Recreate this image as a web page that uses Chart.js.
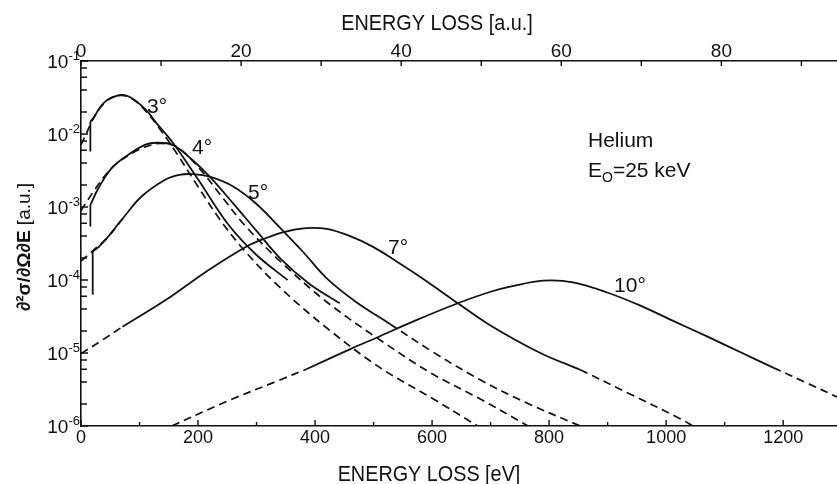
<!DOCTYPE html>
<html>
<head>
<meta charset="utf-8">
<script src="https://cdn.jsdelivr.net/npm/chart.js@4/dist/chart.umd.min.js"></script>
<style>
  html, body { margin: 0; padding: 0; background: #fff; }
</style>
</head>
<body>
<canvas id="chart" width="837" height="484"></canvas>
<script>
// axes
const X_MAX = 1292;          // the figure is cut at the right edge
const EV_PER_AU = 13.68;
const X_TICKS = [0, 200, 400, 600, 800, 1000, 1200];
const X_MINOR = [100, 300, 500, 700, 900, 1100];
const AU_TICKS = [0, 20, 40, 60, 80];
const AU_MINOR = [10, 30, 50, 70, 90];
const Y_TICKS = [1e-6, 1e-5, 1e-4, 1e-3, 1e-2, 1e-1];
const Y_MINOR = [2, 4, 6, 8];

// 3 deg
const E3_START = [16, 16];
const Y3_START = [5.75e-3, 1.48e-2];
const E3_EXP = [16, 23, 32, 45, 69, 85, 111, 129, 157, 200, 250, 300, 353];
const Y3_EXP = [1.48e-2, 1.74e-2, 2.29e-2, 2.92e-2, 3.42e-2, 3.16e-2, 2.14e-2, 1.41e-2, 7.6e-3, 2.4e-3, 6.0e-4, 2.2e-4, 1.0e-4];
const E3_TH = [0, 10, 20, 35, 50, 69, 90, 110, 130, 160, 200, 240, 280, 340, 420, 511, 600, 678];
const Y3_TH = [7.1e-3, 1.05e-2, 1.58e-2, 2.40e-2, 3.09e-2, 3.39e-2, 2.95e-2, 2.09e-2, 1.32e-2, 6.0e-3, 1.9e-3, 6.3e-4, 2.5e-4, 7.9e-5, 2.2e-5, 6.3e-6, 2.4e-6, 1.0e-6];

// 4 deg
const E4_START = [16, 16];
const Y4_START = [5.4e-4, 1.07e-3];
const E4_EXP = [16, 30, 52, 80, 109, 129, 157, 191, 220, 260, 300, 340, 390, 442];
const Y4_EXP = [1.07e-3, 1.82e-3, 3.39e-3, 5.13e-3, 7.08e-3, 7.59e-3, 7.08e-3, 4.37e-3, 2.6e-3, 1.12e-3, 4.7e-4, 2.0e-4, 8.9e-5, 4.8e-5];
const E4_TH = [0, 12, 23, 40, 60, 90, 120, 140, 165, 200, 240, 280, 340, 420, 511, 600, 680, 764];
const Y4_TH = [8.9e-4, 1.26e-3, 1.70e-3, 2.63e-3, 3.89e-3, 5.62e-3, 7.08e-3, 7.41e-3, 6.61e-3, 3.55e-3, 1.41e-3, 5.6e-4, 1.82e-4, 5.0e-5, 1.51e-5, 5.2e-6, 2.4e-6, 1.0e-6];

// 5 deg
const E5_START = [20, 20];
const Y5_START = [6.3e-5, 2.45e-4];
const E5_EXP = [20, 30, 45, 74, 103, 143, 168, 191, 220, 260, 300, 340, 380, 420, 470, 528];
const Y5_EXP = [2.45e-4, 2.82e-4, 3.8e-4, 7.4e-4, 1.38e-3, 2.34e-3, 2.75e-3, 2.82e-3, 2.6e-3, 1.91e-3, 1.10e-3, 5.2e-4, 2.4e-4, 1.05e-4, 5.0e-5, 2.5e-5];
const E5_TH_LOW = [0, 20, 45, 74];
const Y5_TH_LOW = [1.82e-4, 2.5e-4, 3.8e-4, 7.4e-4];
const E5_TH_HIGH = [528, 600, 682, 760, 853];
const Y5_TH_HIGH = [2.5e-5, 1.05e-5, 4.3e-6, 2.1e-6, 1.0e-6];

// 7 deg
const E7_TH_LOW = [0, 35, 71];
const Y7_TH_LOW = [9.8e-6, 1.48e-5, 2.29e-5];
const E7_EXP = [71, 146, 215, 283, 314, 348, 385, 420, 460, 500, 540, 580, 613, 644, 699, 785, 853];
const Y7_EXP = [2.29e-5, 5.4e-5, 1.32e-4, 2.88e-4, 3.7e-4, 4.57e-4, 5.13e-4, 5.0e-4, 3.98e-4, 2.82e-4, 1.78e-4, 1.10e-4, 7.2e-5, 4.8e-5, 2.4e-5, 1.0e-5, 5.9e-6];
const E7_TH_HIGH = [853, 940, 1024, 1046];
const Y7_TH_HIGH = [5.9e-6, 2.7e-6, 1.26e-6, 1.0e-6];

// 10 deg
const E10_TH_LOW = [155, 250, 340, 385];
const Y10_TH_LOW = [1.0e-6, 2.19e-6, 4.27e-6, 6.0e-6];
const E10_EXP = [385, 462, 505, 570, 644, 700, 739, 790, 841, 898, 955, 1010, 1069, 1130, 1183];
const Y10_EXP = [6.0e-6, 1.15e-5, 1.62e-5, 2.75e-5, 4.8e-5, 6.9e-5, 8.3e-5, 9.8e-5, 9.3e-5, 6.8e-5, 4.5e-5, 2.8e-5, 1.7e-5, 1.0e-5, 6.3e-6];
const E10_TH_HIGH = [1183, 1240, 1292];
const Y10_TH_HIGH = [6.3e-6, 3.9e-6, 2.5e-6];

const INK = "#111";
const FONT = '"Liberation Sans", Arial, sans-serif';

function pts(xs, ys) { return xs.map(function(x, i) { return { x: x, y: ys[i] }; }); }

function solid(xs, ys, tension) {
  return { data: pts(xs, ys), borderColor: INK, borderWidth: 1.8, pointRadius: 0, fill: false, tension: tension === undefined ? 0.35 : tension };
}
function dashed(xs, ys) {
  const d = solid(xs, ys);
  d.borderDash = [8, 5];
  d.borderWidth = 1.7;
  return d;
}

const decor = {
  id: "decor",
  afterDraw(chart) {
    const ctx = chart.ctx;
    const a = chart.chartArea;
    const xs = chart.scales.x, xt = chart.scales.xTop, ys = chart.scales.y;
    ctx.save();
    ctx.strokeStyle = INK;
    ctx.lineWidth = 1.4;
    ctx.beginPath();
    X_TICKS.forEach(function(v) { const p = xs.getPixelForValue(v); ctx.moveTo(p, a.bottom); ctx.lineTo(p, a.bottom - 6); });
    X_MINOR.forEach(function(v) { const p = xs.getPixelForValue(v); ctx.moveTo(p, a.bottom); ctx.lineTo(p, a.bottom - 4); });
    AU_TICKS.concat(AU_MINOR).forEach(function(v) { const p = xt.getPixelForValue(v); if (p > a.right) return; ctx.moveTo(p, a.top); ctx.lineTo(p, a.top + 5); });
    Y_TICKS.forEach(function(v) {
      const p = ys.getPixelForValue(v); ctx.moveTo(a.left, p); ctx.lineTo(a.left + 7, p);
      if (v >= 1e-1) return;
      Y_MINOR.forEach(function(m) { const q = ys.getPixelForValue(v * m); ctx.moveTo(a.left, q); ctx.lineTo(a.left + 6, q); });
    });
    ctx.stroke();

    ctx.fillStyle = INK;
    // y tick labels as 10 with a raised exponent
    ctx.textAlign = "right";
    ctx.textBaseline = "middle";
    Y_TICKS.forEach(function(v) {
      const p = ys.getPixelForValue(v);
      const e = String(Math.round(Math.log10(v)));
      ctx.font = "13px " + FONT;
      const we = ctx.measureText(e).width;
      ctx.fillText(e, a.left - 1, p - 5);
      ctx.font = "19px " + FONT;
      ctx.fillText("10", a.left - 1 - we, p + 1.5);
    });

    // axis titles, slightly condensed like the original lettering
    function wide(s, x, y) {
      ctx.save();
      ctx.translate(x, y);
      ctx.scale(0.9, 1);
      ctx.font = "22px " + FONT;
      ctx.textAlign = "center";
      ctx.textBaseline = "middle";
      ctx.fillText(s, 0, 0);
      ctx.restore();
    }
    wide("ENERGY LOSS [eV]", 429, 475);
    wide("ENERGY LOSS [a.u.]", 437, 24);

    ctx.save();
    ctx.translate(25, 247);
    ctx.rotate(-Math.PI / 2);
    ctx.textBaseline = "middle";
    ctx.textAlign = "left";
    ctx.font = "bold 19px " + FONT;
    const p1 = "∂²σ/∂Ω∂E";
    const w1 = ctx.measureText(p1).width;
    ctx.font = "19px " + FONT;
    const p2 = " [a.u.]";
    const w2 = ctx.measureText(p2).width;
    ctx.font = "bold 19px " + FONT;
    ctx.fillText(p1, -(w1 + w2) / 2, 0);
    ctx.font = "19px " + FONT;
    ctx.fillText(p2, -(w1 + w2) / 2 + w1, 0);
    ctx.restore();

    // curve labels
    ctx.font = "21px " + FONT;
    ctx.textAlign = "center";
    ctx.textBaseline = "middle";
    [["3°", 157, 107], ["4°", 202, 148], ["5°", 258, 193], ["7°", 398, 248], ["10°", 630, 286]].forEach(function(l) {
      ctx.fillText(l[0], l[1], l[2]);
    });

    ctx.textAlign = "left";
    ctx.textBaseline = "alphabetic";
    ctx.fillText("Helium", 588, 147);
    ctx.fillText("E", 588, 177);
    let x = 588 + ctx.measureText("E").width;
    ctx.font = "14px " + FONT;
    ctx.fillText("O", x, 182);
    x += ctx.measureText("O").width;
    ctx.font = "21px " + FONT;
    ctx.fillText("=25 keV", x, 177);
    ctx.restore();
  }
};

new Chart(document.getElementById("chart"), {
  type: "line",
  data: {
    datasets: [
      solid(E3_START, Y3_START, 0), solid(E3_EXP, Y3_EXP), dashed(E3_TH, Y3_TH),
      solid(E4_START, Y4_START, 0), solid(E4_EXP, Y4_EXP), dashed(E4_TH, Y4_TH),
      solid(E5_START, Y5_START, 0), solid(E5_EXP, Y5_EXP), dashed(E5_TH_LOW, Y5_TH_LOW), dashed(E5_TH_HIGH, Y5_TH_HIGH),
      dashed(E7_TH_LOW, Y7_TH_LOW), solid(E7_EXP, Y7_EXP), dashed(E7_TH_HIGH, Y7_TH_HIGH),
      dashed(E10_TH_LOW, Y10_TH_LOW), solid(E10_EXP, Y10_EXP), dashed(E10_TH_HIGH, Y10_TH_HIGH)
    ]
  },
  options: {
    responsive: false,
    animation: false,
    devicePixelRatio: 1,
    layout: { padding: 0 },
    plugins: { legend: { display: false }, tooltip: { enabled: false } },
    scales: {
      x: {
        type: "linear", position: "bottom", min: 0, max: X_MAX,
        grid: { display: false, tickLength: 0 },
        border: { display: true, color: INK, width: 1.6 },
        afterBuildTicks: function(s) { s.ticks = X_TICKS.map(function(v) { return { value: v }; }); },
        afterFit: function(s) { s.height = 58; },
        ticks: { color: INK, padding: 3, maxRotation: 0, autoSkip: false, font: { family: FONT, size: 18, lineHeight: 1 },
          callback: function(v) { return String(v); } }
      },
      xTop: {
        type: "linear", axis: "x", position: "top", min: 0, max: X_MAX / EV_PER_AU,
        grid: { display: false, tickLength: 0 },
        border: { display: true, color: INK, width: 1.6 },
        afterBuildTicks: function(s) { s.ticks = AU_TICKS.map(function(v) { return { value: v }; }); },
        afterFit: function(s) { s.height = 61; },
        ticks: { color: INK, padding: 0, maxRotation: 0, autoSkip: false, font: { family: FONT, size: 19, lineHeight: 1 },
          callback: function(v) { return String(v); } }
      },
      y: {
        type: "logarithmic", min: 1e-6, max: 1e-1,
        grid: { display: false, tickLength: 0 },
        border: { display: true, color: INK, width: 1.6 },
        afterBuildTicks: function(s) { s.ticks = Y_TICKS.map(function(v) { return { value: v }; }); },
        afterFit: function(s) { s.width = 81; },
        ticks: { display: false }
      }
    }
  },
  plugins: [decor]
});
</script>
</body>
</html>
